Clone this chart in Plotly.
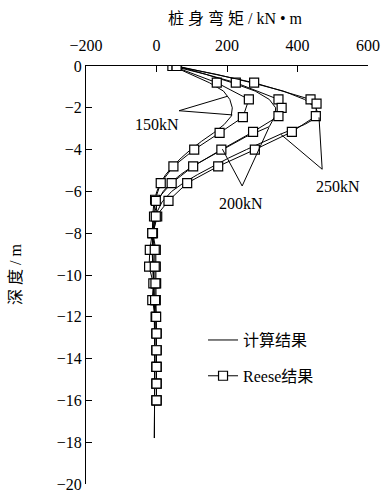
import plotly.graph_objects as go

# ---------------- data ----------------
# Calculated results (solid lines)
calc_depth_150 = [0, -0.4, -0.8, -1.2, -1.6, -2.0, -2.4, -2.8, -3.2, -3.6, -4.0, -4.4, -4.8, -5.2, -5.6, -6.0, -6.5, -7.0, -8.0, -9.0, -10.0, -11.0, -12.0, -14.0, -16.0, -17.8]
calc_m_150 = [45, 100, 150, 190, 208, 215, 212, 192, 162, 128, 97, 70, 46, 26, 11, 1, -7, -10, -12, -10, -8, -6, -5, -5, -6, -6]

calc_depth_200 = [0, -0.4, -0.8, -1.2, -1.6, -2.0, -2.4, -2.9, -3.4, -4.0, -4.4, -4.8, -5.2, -5.6, -6.0, -6.5, -7.0, -8.0, -9.0, -10.0, -11.0, -12.0, -14.0, -16.0, -17.8]
calc_m_200 = [45, 140, 215, 280, 320, 338, 336, 320, 252, 186, 142, 102, 68, 40, 19, 3, -5, -10, -11, -9, -7, -6, -5, -6, -6]

calc_depth_250 = [0, -0.4, -0.8, -1.2, -1.6, -2.0, -2.4, -2.8, -3.26, -3.6, -4.0, -4.4, -4.8, -5.2, -5.6, -6.0, -6.5, -7.0, -8.0, -9.0, -10.0, -11.0, -12.0, -14.0, -16.0, -17.8]
calc_m_250 = [50, 170, 270, 360, 420, 452, 461, 420, 352, 305, 255, 205, 160, 116, 76, 43, 16, 1, -9, -12, -9, -7, -6, -5, -6, -6]

# Reese results (line + square markers)
reese_depth_150 = [0, -0.8, -1.6, -2.45, -3.2, -4.0, -4.8, -5.6, -6.4, -7.2, -8.0, -8.8, -9.6, -10.4, -11.2, -12.0, -12.8, -13.6, -14.4, -15.2, -16.0]
reese_m_150 = [45, 171, 262, 245, 179, 107, 48, 12, -4, -7, -12, -19, -21, -9, -12, -2, 0, 0, 0, 0, 0]

reese_depth_200 = [0, -0.8, -1.6, -2.0, -2.4, -3.15, -4.0, -4.8, -5.6, -6.45, -7.2, -8.0, -8.8, -9.6, -10.4, -11.2, -12.0, -12.8, -13.6, -14.4, -15.2, -16.0]
reese_m_200 = [57, 225, 346, 355, 346, 274, 184, 104, 43, -2, 2, -10, -2, -2, -1, -2, -2, 0, 0, 0, 0, 0]

reese_depth_250 = [0, -0.8, -1.6, -1.8, -2.4, -3.15, -4.0, -4.8, -5.6, -6.45, -7.2, -8.0, -8.8, -9.6, -10.4, -11.2, -12.0, -12.8, -13.6, -14.4, -15.2, -16.0]
reese_m_250 = [57, 277, 437, 454, 452, 384, 279, 175, 87, 34, -2, -12, -5, -5, -3, -4, -1, 0, 0, 0, 0, 0]

x_ticks = [-200, 0, 200, 400, 600]
y_ticks = [0, -2, -4, -6, -8, -10, -12, -14, -16, -18, -20]
load_labels = ["150kN", "200kN", "250kN"]

FONT = "Liberation Serif, Times New Roman, Noto Sans CJK SC, serif"

fig = go.Figure()

calc_sets = [(calc_m_150, calc_depth_150), (calc_m_200, calc_depth_200), (calc_m_250, calc_depth_250)]
reese_sets = [(reese_m_150, reese_depth_150), (reese_m_200, reese_depth_200), (reese_m_250, reese_depth_250)]

for i, (m, d) in enumerate(calc_sets):
    fig.add_trace(go.Scatter(
        x=m, y=d, mode="lines", line=dict(color="black", width=1),
        name="计算结果", legendgroup="calc", showlegend=(i == 0)))

for i, (m, d) in enumerate(reese_sets):
    fig.add_trace(go.Scatter(
        x=m, y=d, mode="lines+markers", line=dict(color="black", width=1),
        marker=dict(symbol="square", size=9, color="white",
                    line=dict(color="black", width=1.2)),
        name="Reese结果", legendgroup="reese", showlegend=(i == 0)))

# leader lines for load labels
leaders = [
    # (apex, end1, end2, label position)
    ((64, -2.14), (201, -1.45), (215, -2.34), (0, -2.78)),
    ((243, -5.74), (187, -3.98), (319, -2.94), (240, -6.57)),
    ((470, -4.94), (461, -2.46), (352, -3.26), (514, -5.76)),
]
for (apex, e1, e2, lab), txt in zip(leaders, load_labels):
    for e in (e1, e2):
        fig.add_shape(type="line", xref="x", yref="y",
                      x0=apex[0], y0=apex[1], x1=e[0], y1=e[1],
                      line=dict(color="black", width=1))
    fig.add_annotation(x=lab[0], y=lab[1], xref="x", yref="y", text=txt,
                       showarrow=False, font=dict(family=FONT, size=16, color="black"))

# axis titles
fig.add_annotation(x=0.53, y=1, xref="paper", yref="paper", yanchor="middle",
                   yshift=48, text="桩 身 弯 矩 / kN • m", showarrow=False,
                   font=dict(family=FONT, size=16, color="black"))
fig.add_annotation(x=0, y=0.5, xref="paper", yref="paper", xshift=-71,
                   xanchor="center", text="深 度 / m", textangle=-90, showarrow=False,
                   font=dict(family=FONT, size=16, color="black"))

fig.update_xaxes(range=[-200, 600], side="top", tickvals=x_ticks,
                 ticks="inside", ticklen=6, tickcolor="black", tickwidth=1,
                 showline=True, linecolor="black", linewidth=1.2,
                 showgrid=False, zeroline=False, ticklabelstandoff=8,
                 tickfont=dict(family=FONT, size=16, color="black"))
fig.update_yaxes(range=[-20, 0], tickvals=y_ticks,
                 ticks="inside", ticklen=6, tickcolor="black", tickwidth=1,
                 showline=True, linecolor="black", linewidth=1.2,
                 showgrid=False, zeroline=False,
                 tickfont=dict(family=FONT, size=16, color="black"))

fig.update_layout(
    width=388, height=495,
    margin=dict(l=86, r=20, t=66, b=11, autoexpand=False),
    paper_bgcolor="white", plot_bgcolor="white",
    showlegend=True,
    legend=dict(x=0.415, y=0.385, xanchor="left", yanchor="top",
                bgcolor="rgba(0,0,0,0)", traceorder="grouped",
                tracegroupgap=12,
                font=dict(family=FONT, size=16, color="black")),
)

fig.write_html("out.html")
